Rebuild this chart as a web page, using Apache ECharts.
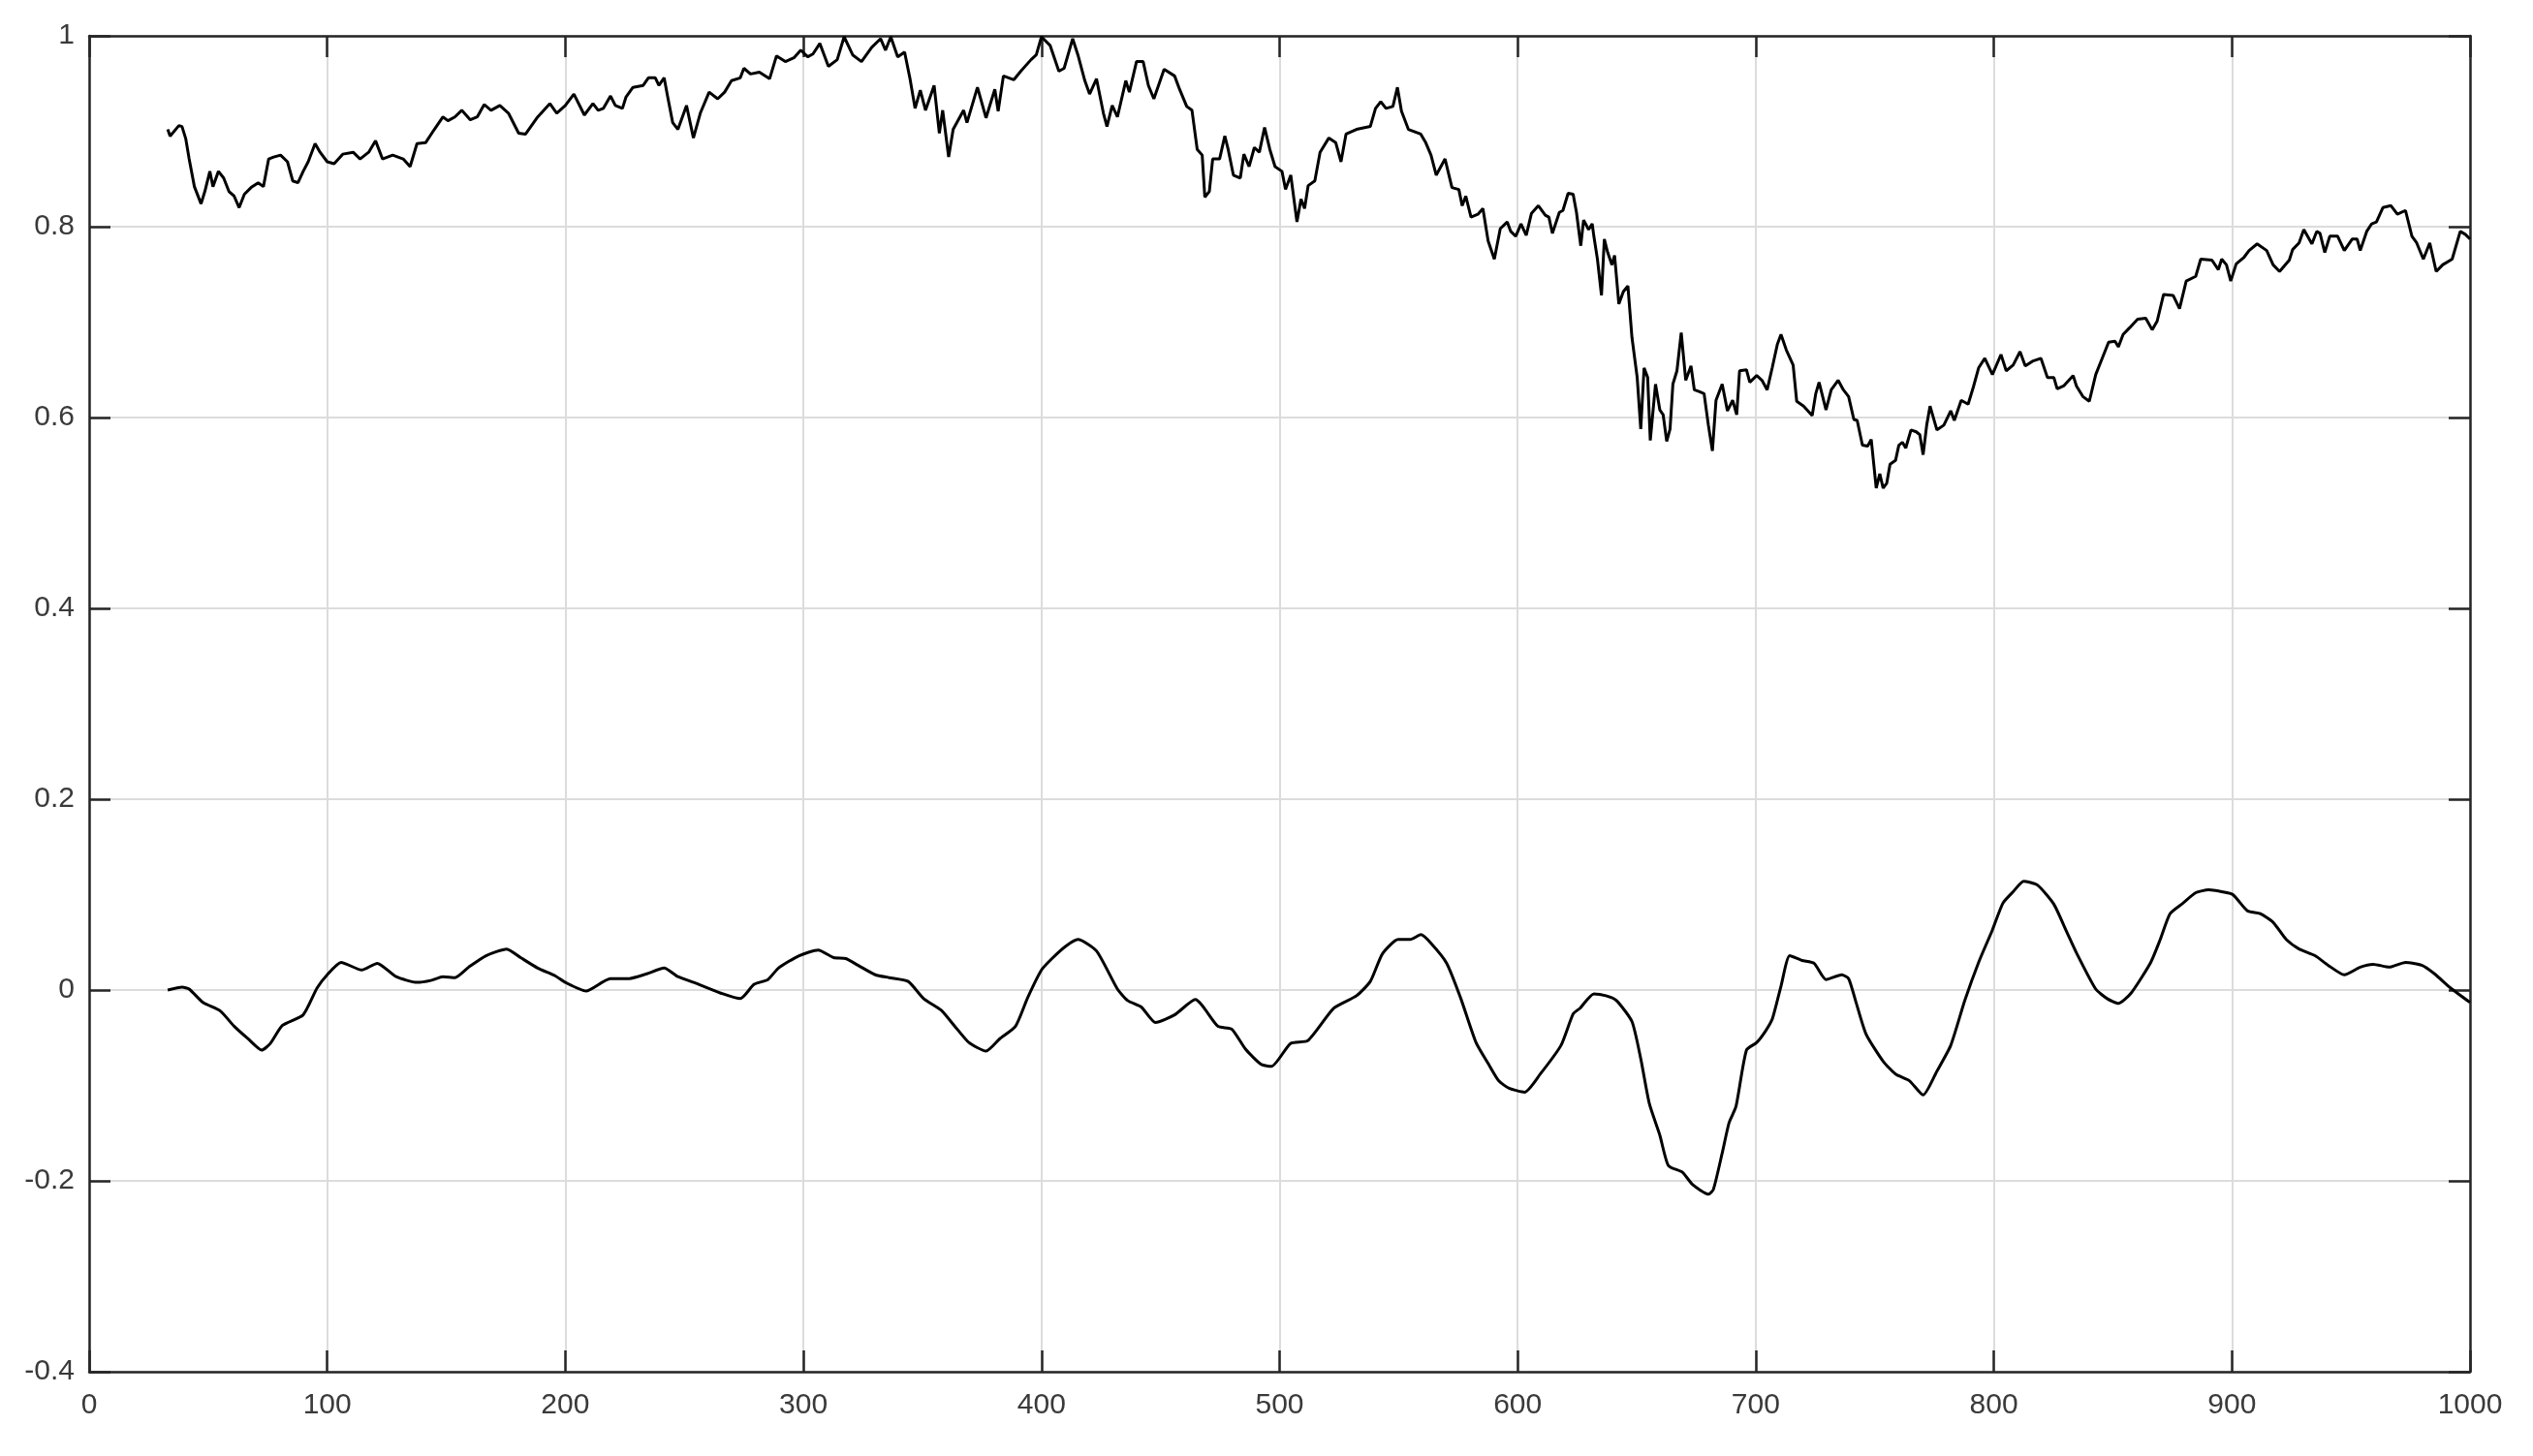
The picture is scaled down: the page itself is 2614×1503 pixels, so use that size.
<!DOCTYPE html>
<html>
<head>
<meta charset="utf-8">
<title>chart</title>
<script src="https://cdn.jsdelivr.net/npm/echarts@6/dist/echarts.min.js"></script>
<style>
  html, body { margin: 0; padding: 0; background: #fff; }
  #main { width: 2614px; height: 1503px; }
</style>
</head>
<body>
<div id="main"></div>
<script>
  // tick labels
  var xTicks = [0, 100, 200, 300, 400, 500, 600, 700, 800, 900, 1000];
  var yTicks = [-0.4, -0.2, 0, 0.2, 0.4, 0.6, 0.8, 1];

  // upper (noisy) curve, [x, y]
  var upperLine = [
    [33,0.902],[34,0.895],[37.7,0.906],[39,0.905],[40.6,0.892],[42,0.871],[44.2,0.842],[47,0.824],[48.6,0.837],[50.7,0.858],
    [52,0.842],[54.3,0.858],[56.5,0.851],[58.7,0.837],[60.9,0.832],[63,0.820],[65.2,0.834],[68,0.841],[71,0.846],[73.2,0.842],
    [75.4,0.871],[77.5,0.873],[80.4,0.875],[83.3,0.868],[85.5,0.848],[87.7,0.846],[89.9,0.858],[92,0.868],[94.9,0.887],[97,0.878],
    [100,0.868],[102.9,0.866],[106.5,0.876],[110.9,0.878],[113.8,0.871],[117.4,0.878],[120.3,0.890],[123.2,0.871],[127.5,0.875],[131.9,0.871],
    [134.8,0.863],[137.7,0.887],[141.3,0.888],[145,0.902],[148.6,0.915],[150.7,0.911],[153.6,0.915],[156.5,0.922],[160.1,0.912],[163,0.915],
    [165.9,0.928],[168.8,0.922],[172.5,0.927],[176.1,0.919],[180.4,0.898],[183.3,0.897],[188.4,0.915],[193.5,0.929],[196.4,0.919],[200,0.927],
    [203.6,0.939],[208,0.917],[211.6,0.929],[213.8,0.922],[216,0.924],[219,0.937],[221,0.927],[224,0.924],[225.5,0.936],[228.4,0.946],
    [232.7,0.948],[234.9,0.956],[237.8,0.956],[239.3,0.948],[241.5,0.956],[243,0.936],[245.1,0.909],[247.3,0.902],[250.9,0.927],[253.8,0.893],
    [256.7,0.919],[260.4,0.941],[264,0.934],[266.9,0.941],[269.8,0.953],[273.5,0.956],[275,0.966],[277.8,0.960],[281.5,0.962],[285.8,0.955],
    [288.7,0.979],[292.4,0.973],[296,0.977],[298.9,0.985],[301.8,0.978],[304,0.981],[306.9,0.992],[310.5,0.968],[314.2,0.975],[317.1,0.999],
    [320.7,0.980],[324.4,0.973],[328.7,0.988],[332.4,0.997],[334.5,0.985],[336.7,0.999],[339.6,0.978],[342.5,0.983],[344.7,0.956],[346.9,0.924],
    [349.1,0.943],[351.3,0.922],[354.9,0.948],[357.1,0.898],[358.5,0.922],[361,0.873],[362.9,0.902],[367.3,0.922],[368.7,0.909],[373.1,0.946],
    [376.7,0.914],[380.4,0.944],[381.8,0.921],[384,0.958],[388.4,0.954],[391.3,0.963],[395.6,0.975],[397.8,0.980],[400,0.999],[403.6,0.990],
    [407.3,0.963],[409.5,0.966],[413.1,0.997],[415.3,0.980],[418.2,0.953],[420.2,0.939],[423.1,0.955],[426,0.919],[427.5,0.905],[429.7,0.927],
    [431.9,0.915],[435.4,0.953],[436.9,0.941],[439.9,0.973],[442.7,0.973],[444.9,0.948],[447.2,0.934],[451.5,0.965],[455.9,0.958],[458,0.944],
    [461,0.926],[463.2,0.922],[465.4,0.881],[467.5,0.875],[468.6,0.831],[470.5,0.837],[471.9,0.871],[474.8,0.871],[477,0.895],[478.4,0.881],
    [480.6,0.854],[483.5,0.851],[485,0.876],[487.2,0.863],[489.4,0.883],[491.5,0.878],[493.7,0.904],[495.9,0.881],[498.1,0.863],[501,0.858],
    [502.5,0.839],[504.7,0.854],[507.3,0.805],[509,0.829],[510.5,0.819],[512,0.843],[514.8,0.848],[517,0.878],[520.7,0.893],[523.6,0.888],
    [525.8,0.868],[527.9,0.897],[532.3,0.902],[538.1,0.905],[540.3,0.924],[542.5,0.931],[544.7,0.924],[547.6,0.926],[549.5,0.946],[551.2,0.921],
    [554.1,0.902],[559.3,0.897],[561.4,0.888],[563.6,0.875],[565.8,0.854],[569.5,0.871],[572.4,0.841],[575.3,0.839],[576.7,0.822],[578.2,0.832],
    [580.4,0.810],[583.3,0.813],[585.4,0.819],[587.6,0.785],[590.2,0.766],[592.7,0.798],[595.6,0.805],[597.1,0.795],[599.2,0.790],[601.4,0.803],
    [603.6,0.791],[605.8,0.814],[608.7,0.822],[611.6,0.812],[613.1,0.810],[614.6,0.793],[617.5,0.815],[619,0.817],[621.2,0.835],[623.3,0.834],
    [624.7,0.815],[626.5,0.780],[627.7,0.807],[629.8,0.797],[631.3,0.803],[632,0.790],[633.5,0.766],[635.2,0.728],[636.4,0.787],[637.8,0.773],
    [639.6,0.760],[640.7,0.770],[642.5,0.719],[644.4,0.732],[646.3,0.738],[648,0.684],[650.2,0.642],[651.7,0.588],[653.1,0.652],[654.6,0.642],
    [655.7,0.576],[657.9,0.635],[659.7,0.608],[661.1,0.603],[662.6,0.575],[664,0.588],[665.2,0.635],[666.9,0.649],[668.7,0.689],[670.6,0.639],
    [672.8,0.654],[674.2,0.629],[676.4,0.627],[678.3,0.625],[680.1,0.592],[681.8,0.565],[683.3,0.618],[685.9,0.635],[688.1,0.607],[690.3,0.618],
    [692,0.603],[693.2,0.649],[696.1,0.650],[697.5,0.637],[700.4,0.644],[702.6,0.639],[704.8,0.629],[706.9,0.652],[709.1,0.677],[710.6,0.687],
    [712.8,0.671],[715.7,0.655],[717.2,0.617],[720.1,0.612],[723.7,0.602],[725.2,0.625],[726.6,0.637],[729.5,0.608],[731.7,0.629],[734.6,0.639],
    [736.8,0.629],[739,0.622],[741.2,0.598],[742.6,0.597],[744.8,0.571],[747,0.570],[748.5,0.577],[750.6,0.526],[752.1,0.541],[753.5,0.526],
    [755,0.531],[756.4,0.551],[758.7,0.555],[760.1,0.571],[761.6,0.574],[763,0.568],[765.2,0.587],[767.4,0.585],[768.9,0.582],[770.3,0.561],
    [771.8,0.592],[773.2,0.612],[776.1,0.587],[779,0.592],[781.9,0.607],[783.4,0.597],[786.3,0.618],[789.2,0.614],[791.4,0.632],[793.6,0.652],
    [796.2,0.662],[799.4,0.645],[803,0.666],[805.2,0.649],[808.1,0.655],[811,0.669],[813.2,0.654],[816.2,0.659],[819.8,0.662],[822.5,0.642],
    [825.2,0.642],[826.6,0.630],[829.3,0.633],[833.3,0.644],[834.7,0.633],[837.4,0.622],[840.1,0.617],[842.8,0.645],[845.5,0.662],[848.2,0.679],
    [850.9,0.680],[852.3,0.674],[854.3,0.687],[857,0.694],[860.4,0.703],[863.8,0.704],[866.5,0.692],[868.6,0.701],[871.3,0.729],[875.3,0.728],
    [878,0.714],[880.8,0.743],[884.8,0.748],[886.9,0.766],[891.6,0.765],[894.3,0.755],[895.7,0.766],[897.7,0.760],[899.5,0.743],[901.8,0.761],
    [905.1,0.768],[907.2,0.775],[910.6,0.782],[914.6,0.775],[917.3,0.760],[920,0.753],[924.1,0.765],[925.5,0.776],[928.2,0.783],[930.2,0.797],
    [933.6,0.782],[935.6,0.795],[937,0.793],[939,0.773],[941.1,0.790],[944.4,0.790],[947.2,0.775],[950.5,0.787],[952.6,0.787],[953.9,0.775],
    [956.6,0.795],[958.7,0.803],[960.7,0.805],[963.4,0.820],[966.8,0.822],[969.5,0.813],[972.9,0.817],[975.6,0.790],[977.6,0.783],[980.4,0.766],
    [983.1,0.783],[985.8,0.753],[988.5,0.760],[992.5,0.766],[995.9,0.795],[998,0.792],[1000,0.787]
  ];

  // lower (smooth) curve
  var lowerLine = [
    [33,0.000],[39.1,0.003],[42,0.001],[47.8,-0.013],[55.1,-0.022],[60.9,-0.038],[66.7,-0.051],[72.5,-0.063],[76.1,-0.056],[81.2,-0.037],
    [89.9,-0.026],[95.7,0.002],[100,0.016],[105.8,0.029],[114.5,0.021],[121,0.028],[128.9,0.014],[137.7,0.008],[143.5,0.010],[148.6,0.014],
    [153.6,0.013],[159.4,0.024],[166.7,0.036],[175.4,0.043],[181.2,0.034],[188.4,0.023],[195.7,0.015],[200,0.008],[208.7,-0.001],[218.9,0.012],
    [226.9,0.012],[234.2,0.017],[241.5,0.023],[247.3,0.014],[256,0.006],[266.2,-0.004],[273.5,-0.009],[279.3,0.006],[285.1,0.011],[289.5,0.023],
    [298.2,0.036],[306.2,0.042],[312.7,0.034],[317.8,0.033],[322.9,0.026],[330.2,0.016],[336,0.013],[344,0.009],[350.5,-0.009],[357.8,-0.021],
    [363.6,-0.038],[369.5,-0.055],[376.7,-0.064],[382.5,-0.051],[389.1,-0.038],[394.2,-0.008],[400,0.021],[404.4,0.033],[410.2,0.046],[415.3,0.053],
    [423.1,0.041],[431.9,0.001],[436.2,-0.011],[442,-0.018],[447.9,-0.034],[455.9,-0.026],[464.6,-0.010],[474.1,-0.038],[479.9,-0.041],[485.7,-0.062],
    [492.3,-0.078],[496.6,-0.080],[504.6,-0.056],[511.9,-0.053],[522.8,-0.019],[532.3,-0.006],[538.1,0.009],[543.2,0.038],[549.8,0.053],[554.9,0.053],
    [559.3,0.058],[563.6,0.049],[570.2,0.028],[576,-0.008],[582.5,-0.055],[587.6,-0.077],[592,-0.095],[596.4,-0.103],[602.9,-0.107],[609.5,-0.088],
    [618.2,-0.058],[623.3,-0.025],[626.2,-0.019],[632,-0.004],[637.1,-0.006],[641.5,-0.011],[648,-0.033],[651.7,-0.072],[655.3,-0.119],[659.7,-0.152],
    [663.3,-0.184],[669.2,-0.191],[673.5,-0.204],[680.1,-0.214],[682.2,-0.209],[685.9,-0.171],[688.8,-0.139],[691.7,-0.122],[696.1,-0.063],[700.4,-0.055],
    [704.1,-0.043],[707,-0.030],[710.6,0.004],[714.3,0.036],[719.4,0.031],[724.5,0.028],[729.5,0.011],[736.1,0.016],[739,0.012],[741.9,-0.011],
    [746.3,-0.046],[753.6,-0.075],[758.7,-0.088],[764.5,-0.095],[770.3,-0.110],[776.1,-0.085],[781.9,-0.058],[787.8,-0.011],[793.6,0.029],[799.4,0.063],
    [803.8,0.091],[808.1,0.103],[812.5,0.114],[818.3,0.110],[825.2,0.090],[830.6,0.061],[834.7,0.039],[842.8,0.001],[847.6,-0.009],[852.3,-0.014],
    [857.7,-0.003],[865.9,0.029],[869.9,0.053],[874,0.080],[879.4,0.091],[884.8,0.102],[890.2,0.105],[895.7,0.103],[900.4,0.100],[906.5,0.083],
    [911.9,0.080],[917.3,0.071],[922.8,0.053],[928.2,0.043],[934.9,0.036],[940.4,0.026],[947.2,0.016],[953.9,0.024],[959.3,0.027],[966.1,0.024],
    [972.9,0.029],[979.7,0.026],[985.1,0.017],[991.9,0.002],[1000,-0.013]
  ];

  var axisColor = '#262626';
  var gridColor = '#dcdcdc';

  var chart = echarts.init(document.getElementById('main'));

  // shared look of the four box axes
  function boxAxis(extra) {
    var base = {
      type: 'value',
      axisLine: { show: true, onZero: false, lineStyle: { color: axisColor, width: 2.5 } },
      axisTick: { show: true, inside: true, length: 22, lineStyle: { color: axisColor, width: 2.5 } },
      splitLine: { show: false },
      axisLabel: { show: false }
    };
    return Object.assign(base, extra);
  }

  var labelStyle = {
    show: true,
    color: '#3a3a3a',
    fontFamily: 'Liberation Sans, Arial, sans-serif',
    fontSize: 30
  };

  var option = {
    animation: false,
    backgroundColor: '#ffffff',
    grid: { left: 92, top: 37, width: 2457, height: 1379 },
    xAxis: [
      boxAxis({
        position: 'bottom',
        min: xTicks[0], max: xTicks[xTicks.length - 1], interval: 100,
        splitLine: { show: true, lineStyle: { color: gridColor, width: 2 } },
        axisLabel: Object.assign({}, labelStyle, { margin: 20, formatter: function (v) { return String(v); } })
      }),
      boxAxis({ position: 'top', min: 0, max: 1000, interval: 100 })
    ],
    yAxis: [
      boxAxis({
        position: 'left',
        min: yTicks[0], max: yTicks[yTicks.length - 1], interval: 0.2,
        splitLine: { show: true, lineStyle: { color: gridColor, width: 2 } },
        axisLabel: Object.assign({}, labelStyle, { margin: 15, formatter: function (v) { return String(+v.toFixed(1)); } })
      }),
      boxAxis({ position: 'right', min: -0.4, max: 1, interval: 0.2 })
    ],
    series: [
      {
        type: 'line',
        data: upperLine,
        showSymbol: false,
        lineStyle: { color: '#000000', width: 3 },
        z: 5
      },
      {
        type: 'line',
        data: lowerLine,
        showSymbol: false,
        smooth: 0.2,
        lineStyle: { color: '#000000', width: 3 },
        z: 5
      }
    ]
  };

  option && chart.setOption(option);
</script>
</body>
</html>
